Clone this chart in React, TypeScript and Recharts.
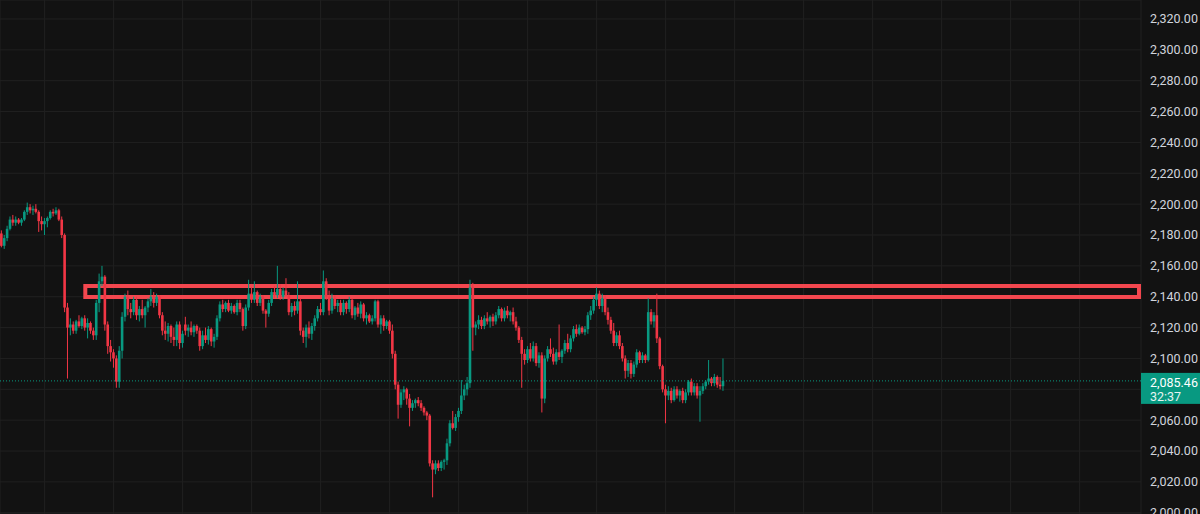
import React from "react";
import { ComposedChart, Bar, XAxis, YAxis, CartesianGrid, ReferenceLine, ReferenceArea } from "recharts";

const opens = [
  2181,2173,2178,2184,2190,2188,2190,2188,2190,2195,2198,2196,
  2197,2195,2189,2187,2189,2191,2195,2194,2196,2190,2180,2133,
  2120,2122,2118,2124,2121,2126,2120,2123,2118,2115,2136,2150,
  2153,2122,2108,2104,2100,2085,2105,2127,2140,2132,2130,2138,
  2128,2132,2128,2133,2137,2140,2136,2140,2128,2118,2116,2121,
  2114,2112,2122,2110,2122,2118,2120,2117,2121,2118,2108,2115,
  2112,2119,2111,2114,2126,2135,2132,2136,2131,2134,2130,2136,
  2132,2121,2133,2142,2138,2143,2136,2140,2131,2129,2136,2143,
  2141,2145,2140,2144,2141,2130,2134,2131,2137,2118,2114,2120,
  2116,2121,2126,2132,2130,2150,2140,2131,2139,2134,2136,2130,
  2136,2132,2138,2128,2133,2129,2135,2126,2128,2124,2126,2137,
  2122,2126,2121,2124,2118,2103,2083,2070,2078,2080,2074,2068,
  2071,2073,2071,2068,2065,2063,2032,2028,2032,2029,2033,2034,
  2045,2058,2055,2062,2066,2076,2080,2084,2146,2120,2122,2125,
  2121,2126,2124,2127,2124,2128,2132,2126,2131,2128,2130,2124,
  2120,2112,2103,2099,2106,2100,2108,2097,2102,2074,2100,2106,
  2103,2098,2104,2101,2105,2110,2106,2113,2119,2116,2120,2117,
  2119,2128,2131,2138,2142,2134,2139,2130,2125,2118,2110,2115,
  2108,2100,2092,2097,2090,2096,2104,2099,2102,2099,2130,2124,
  2128,2113,2095,2080,2076,2079,2073,2080,2076,2079,2073,2078,
  2085,2078,2082,2076,2079,2082,2085,2087,2084,2088,2083,2082,
];

const highs = [
  2183,2180,2186,2192,2193,2192,2191,2191,2196,2201,2200,2199,
  2200,2196,2192,2191,2192,2196,2197,2198,2197,2192,2181,2136,
  2126,2124,2125,2128,2127,2128,2126,2124,2120,2138,2155,2160,
  2154,2124,2112,2106,2102,2108,2130,2142,2144,2136,2140,2140,
  2134,2138,2134,2139,2145,2143,2142,2141,2130,2124,2123,2122,
  2120,2124,2124,2118,2127,2122,2124,2122,2122,2120,2118,2120,
  2121,2120,2116,2128,2137,2138,2137,2138,2136,2135,2138,2138,
  2133,2135,2151,2146,2150,2144,2142,2141,2132,2138,2145,2147,
  2160,2148,2146,2152,2143,2136,2137,2150,2139,2120,2122,2124,
  2123,2128,2134,2136,2157,2152,2144,2142,2141,2138,2138,2138,
  2137,2140,2139,2134,2136,2137,2136,2130,2129,2128,2138,2138,
  2128,2128,2125,2125,2122,2105,2085,2080,2082,2081,2077,2073,
  2074,2075,2073,2069,2066,2064,2034,2034,2034,2034,2035,2048,
  2060,2066,2064,2068,2086,2083,2088,2151,2149,2124,2128,2127,
  2128,2130,2128,2129,2130,2134,2133,2133,2134,2131,2133,2127,
  2121,2114,2106,2108,2110,2111,2110,2104,2104,2102,2108,2113,
  2107,2106,2122,2106,2112,2116,2115,2121,2122,2122,2121,2121,
  2130,2134,2140,2146,2144,2142,2141,2133,2127,2123,2117,2118,
  2110,2102,2099,2099,2098,2106,2105,2104,2103,2139,2132,2130,
  2142,2114,2096,2083,2082,2081,2082,2082,2080,2081,2080,2086,
  2087,2084,2084,2082,2084,2086,2099,2088,2090,2089,2088,2100,
];

const lows = [
  2172,2171,2176,2183,2186,2186,2187,2186,2189,2193,2194,2193,
  2194,2182,2183,2180,2185,2190,2192,2193,2189,2178,2130,2087,
  2115,2116,2116,2120,2119,2118,2113,2116,2112,2112,2130,2147,
  2118,2103,2098,2094,2081,2081,2100,2124,2128,2126,2128,2125,
  2124,2126,2120,2130,2134,2133,2134,2126,2115,2112,2111,2110,
  2108,2108,2106,2107,2115,2114,2115,2114,2116,2105,2106,2110,
  2109,2108,2107,2112,2124,2130,2130,2130,2129,2129,2128,2130,
  2118,2119,2131,2136,2136,2134,2134,2129,2120,2127,2134,2139,
  2139,2138,2138,2140,2128,2127,2128,2129,2115,2110,2107,2113,
  2112,2118,2124,2128,2128,2138,2128,2129,2132,2130,2128,2128,
  2129,2130,2126,2125,2127,2126,2124,2122,2123,2122,2124,2120,
  2116,2118,2119,2116,2100,2080,2061,2068,2073,2070,2056,2066,
  2068,2069,2066,2063,2060,2030,2010,2025,2027,2027,2028,2031,
  2043,2054,2053,2059,2064,2073,2076,2081,2105,2115,2119,2119,
  2119,2122,2120,2121,2122,2126,2124,2124,2126,2124,2122,2118,
  2110,2081,2096,2097,2098,2098,2095,2094,2065,2071,2098,2101,
  2096,2096,2099,2097,2103,2104,2104,2111,2114,2115,2116,2115,
  2116,2125,2129,2134,2132,2130,2128,2122,2116,2108,2108,2106,
  2098,2087,2088,2087,2088,2094,2097,2097,2097,2098,2122,2120,
  2110,2093,2078,2058,2073,2071,2072,2074,2072,2071,2071,2076,
  2076,2076,2074,2059,2077,2080,2083,2082,2082,2081,2080,2079,
];

const closes = [
  2173,2178,2184,2190,2188,2190,2188,2190,2195,2198,2196,2197,
  2195,2189,2187,2189,2191,2195,2194,2196,2190,2180,2133,2120,
  2122,2118,2124,2121,2126,2120,2123,2118,2115,2136,2150,2153,
  2122,2108,2104,2100,2085,2105,2127,2140,2132,2130,2138,2128,
  2132,2128,2133,2137,2140,2136,2140,2128,2118,2116,2121,2114,
  2112,2122,2110,2116,2118,2120,2117,2121,2118,2108,2115,2112,
  2119,2111,2114,2126,2135,2132,2136,2131,2134,2130,2136,2132,
  2121,2133,2142,2138,2143,2136,2140,2131,2129,2136,2143,2141,
  2145,2140,2144,2141,2130,2134,2131,2137,2118,2114,2120,2116,
  2121,2126,2132,2130,2150,2140,2131,2139,2134,2136,2130,2136,
  2132,2138,2128,2133,2129,2135,2126,2128,2124,2126,2137,2122,
  2126,2121,2124,2118,2103,2083,2070,2078,2080,2074,2068,2071,
  2073,2071,2068,2065,2063,2032,2028,2032,2029,2033,2034,2045,
  2058,2055,2062,2066,2076,2080,2084,2146,2120,2122,2125,2121,
  2126,2124,2127,2124,2128,2132,2126,2131,2128,2130,2124,2120,
  2112,2103,2099,2106,2100,2108,2097,2102,2074,2100,2106,2103,
  2098,2104,2101,2105,2110,2106,2113,2119,2116,2120,2117,2119,
  2128,2131,2138,2142,2134,2139,2130,2125,2118,2110,2115,2108,
  2100,2092,2097,2090,2096,2104,2099,2102,2099,2130,2124,2128,
  2113,2095,2080,2076,2079,2073,2080,2076,2079,2073,2078,2085,
  2078,2082,2076,2079,2082,2085,2087,2084,2088,2083,2082,2085.46,
];

const priceTicks = [2000, 2020, 2040, 2060, 2080, 2100, 2120, 2140, 2160, 2180, 2200, 2220, 2240, 2260, 2280, 2300, 2320];
const dayStarts = [15, 39, 63, 87, 111, 135, 159, 183, 207, 231, 255, 279, 303, 327, 351, 375];
const zone = { from: 29.15, to: 395.65, low: 2139.8, high: 2147.0 };
const lastPrice = 2085.46;
const lastPriceText = "2,085.46";
const countdown = "32:37";

const UP = "#089981";
const DOWN = "#f23645";
const BG = "#121212";
const GRID = "#202020";
const ZONE = "#f4474f";
const TEXT = "#d1d4dc";
const FONT = "Roboto, 'Noto Sans', sans-serif";

const data = closes.map((c, i) => ({
  i,
  o: opens[i],
  h: highs[i],
  l: lows[i],
  c,
  range: [lows[i], highs[i]],
}));

const fmt = (v: number) =>
  v.toLocaleString("en-US", { minimumFractionDigits: 2, maximumFractionDigits: 2 });

const Candle = (props: any) => {
  const { x, y, width, height, payload } = props;
  if (!payload || x == null) return null;
  const { o, h, l, c } = payload;
  const top = Math.min(y, y + height);
  const hh = Math.abs(height);
  const ppu = h - l > 0 ? hh / (h - l) : 0;
  const cx = x + width / 2;
  const bodyTop = top + (h - Math.max(o, c)) * ppu;
  const bodyH = Math.max(1, Math.abs(o - c) * ppu);
  const color = c >= o ? UP : DOWN;
  return (
    <g>
      <line x1={cx} x2={cx} y1={top} y2={top + hh} stroke={color} strokeWidth={1} />
      <rect x={cx - 1.3} y={bodyTop} width={2.6} height={bodyH} fill={color} />
    </g>
  );
};

const PriceTick = (props: any) => {
  const { x, y, payload } = props;
  if (payload.value === 2080) return <g />;
  return (
    <text x={x} y={y} dy="0.35em" fill={TEXT} fontSize={12.5} fontFamily={FONT} textAnchor="start">
      {fmt(payload.value)}
    </text>
  );
};

const PriceTag = (props: any) => {
  const vb = props.viewBox || {};
  const left = (vb.x || 0) + (vb.width || 0);
  const y = vb.y || 0;
  return (
    <g>
      <rect x={left} y={y - 8} width={59} height={31} fill={UP} />
      <text x={left + 9} y={y + 1.5} fill="#ffffff" fontSize={12.5} fontFamily={FONT} dominantBaseline="central">
        {lastPriceText}
      </text>
      <text x={left + 9} y={y + 15.5} fill="#e6f4f1" fontSize={12.5} fontFamily={FONT} dominantBaseline="central">
        {countdown}
      </text>
    </g>
  );
};

export default function App() {
  return (
    <div style={{ position: "absolute", left: 0, top: 0, width: 1200, height: 514, background: BG, overflow: "hidden" }}>
      <ComposedChart width={1200} height={514} data={data} margin={{ top: 0, right: 0, bottom: 0, left: 0 }}>
        <CartesianGrid stroke={GRID} />
        <XAxis dataKey="i" type="number" domain={[-0.52, 396.35]} ticks={dayStarts} interval={0} allowDataOverflow hide />
        <YAxis
          orientation="right"
          width={59}
          domain={[1999.2, 2332.3]}
          allowDataOverflow
          ticks={priceTicks}
          axisLine={false}
          tickLine={false}
          tickSize={0}
          tickMargin={9}
          tick={<PriceTick />}
          interval={0}
        />
        <ReferenceLine
          y={lastPrice}
          stroke={UP}
          strokeDasharray="1 2"
          strokeWidth={1}
          label={<PriceTag />}
        />
        <Bar dataKey="range" barSize={3} shape={<Candle />} isAnimationActive={false} />
        <ReferenceArea
          x1={zone.from}
          x2={zone.to}
          y1={zone.low}
          y2={zone.high}
          fill="none"
          fillOpacity={0}
          stroke={ZONE}
          strokeWidth={4}
        />
      </ComposedChart>
    </div>
  );
}
